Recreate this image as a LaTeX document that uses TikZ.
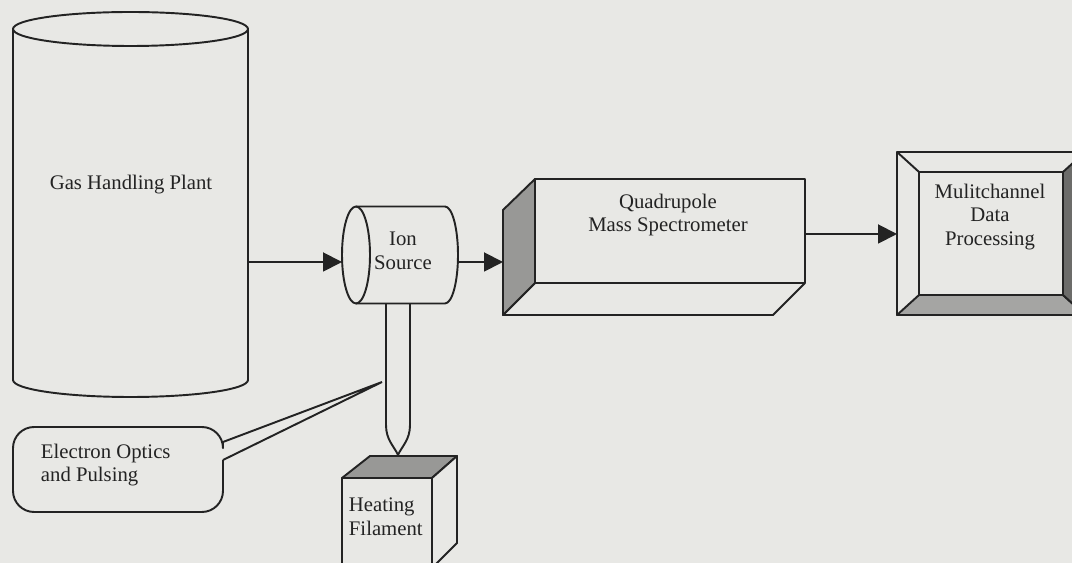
\documentclass[tikz,border=0pt]{standalone}
\usepackage{fontspec}
\setmainfont{Liberation Serif}
\usetikzlibrary{arrows.meta}
\definecolor{paper}{RGB}{232,232,229}
\definecolor{sidegray}{RGB}{152,152,150}
\definecolor{bevgray}{RGB}{165,165,163}
\definecolor{bevdark}{RGB}{108,108,106}
\definecolor{ink}{RGB}{35,35,35}
\begin{document}
\begin{tikzpicture}[x=0.02cm, y=-0.02cm, line width=1.1pt, line join=round, draw=ink,
    lbl/.style={inner sep=0pt, align=center, text=ink, font=\fontsize{11.8}{13.5}\selectfont},
    arr/.style={-{Triangle[length=0.38cm,width=0.38cm]}},
    face/.style={draw, fill=paper}]
  \fill[paper] (0,0) rectangle (1072,563);
  \useasboundingbox (0,0) rectangle (1072,563);
  \clip (0,0) rectangle (1072,563);
  % gas handling plant
  \draw (13,29) -- (13,380) arc[start angle=180, end angle=0, x radius=117.5, y radius=17] -- (248,29)
        (130.5,29) ellipse[x radius=117.5, y radius=17];
  \node[lbl] (plant) at (131,185) {Gas Handling Plant};
  % tube down to the filament
  \draw[fill=paper] (386,300) -- (386,425) .. controls (386,440) and (394,446) .. (398,455)
        .. controls (402,446) and (410,440) .. (410,425) -- (410,300);
  % ion source
  \draw[fill=paper] (356,206.5) -- (445,206.5) arc[start angle=-90, end angle=90, x radius=13, y radius=48.5] -- (356,303.5);
  \draw (356,255) ellipse[x radius=14, y radius=48.5];
  \node[lbl] (ion) at (403,251) {Ion\\Source};
  % quadrupole
  \draw[face] (535,283) -- (503,315) -- (773,315) -- (805,283);
  \draw[face, fill=sidegray] (535,179) -- (503,210) -- (503,315) -- (535,283) -- cycle;
  \draw[face] (535,179) rectangle (805,283);
  \node[lbl] (qms) at (668,215) {Quadrupole\\Mass Spectrometer};
  % data processing
  \draw[face] (897,152) rectangle (1085,315);
  \draw[face, fill=bevgray] (897,315) -- (919,295) -- (1063,295) -- (1085,315) -- cycle;
  \draw[face, fill=bevdark] (1063,172) -- (1085,152) -- (1085,315) -- (1063,295) -- cycle;
  \draw (897,152) -- (919,172);
  \draw[face] (919,172) rectangle (1063,295);
  \node[lbl] (dp) at (990,217) {Mulitchannel\\Data\\Processing};
  % heating filament
  \draw[face] (342,478) rectangle (432,570);
  \draw[face, fill=sidegray] (342,478) -- (370,456) -- (457,456) -- (432,478) -- cycle;
  \draw[face] (432,478) -- (457,456) -- (457,543) -- (432,568) -- cycle;
  \node[lbl, align=left, anchor=west] (heat) at (348,517) {Heating\\Filament};
  % callout
  \draw[rounded corners=12] (223,442) -- (223,427) -- (13,427) -- (13,512) -- (223,512) -- (223,460);
  \coordinate (tip) at (382,382);
  \draw[line join=miter] (223,460) -- (tip) -- (223,442);
  \node[lbl, align=left, anchor=west] (optics) at (40,465) {Electron Optics\\and Pulsing};
  % connectors
  \coordinate (plant out) at (248,262);
  \coordinate (ion in) at (342,262);
  \coordinate (ion out) at (458,262);
  \coordinate (qms in) at (503,262);
  \coordinate (qms out) at (805,234);
  \coordinate (dp in) at (897,234);
  \draw[arr] (plant out) -- (ion in);
  \draw[arr] (ion out) -- (qms in);
  \draw[arr] (qms out) -- (dp in);
\end{tikzpicture}
\end{document}
